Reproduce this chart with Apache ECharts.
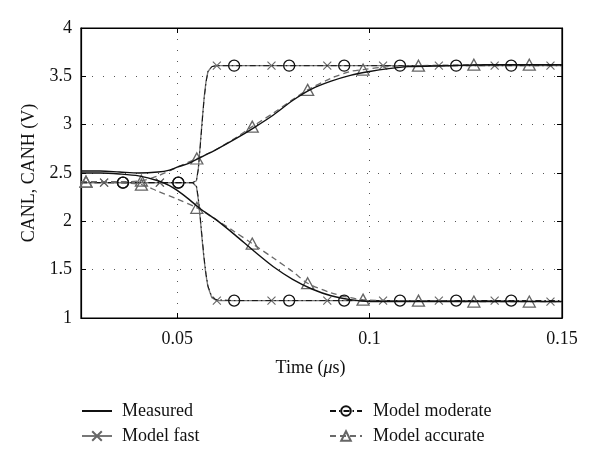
<!DOCTYPE html>
<html><head><meta charset="utf-8">
<script src="https://cdn.jsdelivr.net/npm/echarts@6/dist/echarts.min.js"></script>
<style>html,body{margin:0;padding:0;background:#fff}#c{width:600px;height:460px}</style>
</head><body><div id="c"></div>
<script>
// Axis ticks
const xTicks = [0.05, 0.1, 0.15];
const yTicks = [1, 1.5, 2, 2.5, 3, 3.5, 4];

// Measured (solid)
const measT = [0.025, 0.030, 0.035, 0.040, 0.045, 0.048, 0.050, 0.053, 0.056, 0.060, 0.065, 0.070, 0.075, 0.080, 0.085, 0.090, 0.095, 0.100, 0.105, 0.110, 0.120, 0.130, 0.140, 0.150];
const measH = [2.52, 2.52, 2.51, 2.50, 2.51, 2.53, 2.56, 2.60, 2.66, 2.74, 2.85, 2.97, 3.10, 3.25, 3.37, 3.45, 3.51, 3.55, 3.58, 3.60, 3.61, 3.62, 3.62, 3.62];
const measL = [2.50, 2.50, 2.49, 2.47, 2.42, 2.37, 2.32, 2.23, 2.13, 2.02, 1.86, 1.69, 1.53, 1.40, 1.30, 1.23, 1.19, 1.17, 1.17, 1.17, 1.17, 1.17, 1.17, 1.17];

// Model fast (x markers)
const fastT = [0.025, 0.031, 0.0455, 0.054, 0.055, 0.0555, 0.056, 0.0565, 0.057, 0.0575, 0.058, 0.059, 0.0603, 0.0745, 0.089, 0.1035, 0.118, 0.1325, 0.147, 0.15];
const fastH = [2.40, 2.40, 2.40, 2.40, 2.42, 2.55, 2.80, 3.05, 3.28, 3.45, 3.55, 3.60, 3.61, 3.61, 3.61, 3.61, 3.61, 3.61, 3.61, 3.61];
const fastL = [2.40, 2.40, 2.40, 2.40, 2.36, 2.22, 2.02, 1.80, 1.60, 1.44, 1.32, 1.21, 1.18, 1.18, 1.18, 1.18, 1.18, 1.18, 1.17, 1.17];
const fastMarks = [0.031, 0.0455, 0.0603, 0.0745, 0.089, 0.1035, 0.118, 0.1325, 0.147];

// Model moderate (circle markers)
const modT = [0.025, 0.0359, 0.0503, 0.054, 0.055, 0.0555, 0.056, 0.0565, 0.057, 0.0575, 0.058, 0.059, 0.060, 0.0648, 0.0791, 0.0934, 0.1079, 0.1225, 0.1368, 0.15];
const modH = [2.40, 2.40, 2.40, 2.40, 2.42, 2.54, 2.78, 3.03, 3.27, 3.44, 3.55, 3.60, 3.61, 3.61, 3.61, 3.61, 3.61, 3.61, 3.61, 3.61];
const modL = [2.40, 2.40, 2.40, 2.40, 2.37, 2.24, 2.04, 1.82, 1.62, 1.45, 1.33, 1.22, 1.19, 1.18, 1.18, 1.18, 1.18, 1.18, 1.18, 1.18];
const modMarks = [0.0359, 0.0503, 0.0648, 0.0791, 0.0934, 0.1079, 0.1225, 0.1368];

// Model accurate (triangle markers)
const accT = [0.025, 0.0263, 0.035, 0.0407, 0.045, 0.050, 0.0551, 0.060, 0.065, 0.0695, 0.075, 0.080, 0.0839, 0.090, 0.095, 0.0983, 0.105, 0.1127, 0.1271, 0.1415, 0.15];
const accH = [2.41, 2.41, 2.41, 2.42, 2.47, 2.56, 2.65, 2.74, 2.86, 2.98, 3.12, 3.26, 3.36, 3.48, 3.55, 3.57, 3.60, 3.61, 3.62, 3.62, 3.62];
const accL = [2.41, 2.41, 2.40, 2.38, 2.31, 2.23, 2.14, 2.02, 1.89, 1.77, 1.62, 1.48, 1.36, 1.26, 1.21, 1.19, 1.18, 1.18, 1.17, 1.17, 1.17];
const accMarks = [0.0263, 0.0407, 0.0551, 0.0695, 0.0839, 0.0983, 0.1127, 0.1271, 0.1415];

function build(ts, vs, marks) {
  return ts.map((t, i) => marks.some(m => Math.abs(m - t) < 1e-9) ? [t, vs[i]] : { value: [t, vs[i]], symbol: 'none' });
}

const FONT = 'Liberation Serif';
const crossPath = 'path://M0,0L10,10M10,0L0,10';

function measured(vs) {
  return { name: 'Measured', type: 'line', data: measT.map((t, i) => [t, vs[i]]), symbol: 'none', smooth: 0.3, z: 5,
    lineStyle: { color: '#111', width: 1.4 }, itemStyle: { color: '#111' } };
}
function fast(vs) {
  return { name: 'Model fast', type: 'line', data: build(fastT, vs, fastMarks), symbol: crossPath, symbolSize: 8,
    showAllSymbol: true, z: 3,
    lineStyle: { color: '#777', width: 1.3 }, itemStyle: { color: 'none', borderColor: '#666', borderWidth: 1.1 } };
}
function moderate(vs) {
  return { name: 'Model moderate', type: 'line', data: build(modT, vs, modMarks), symbol: 'circle', symbolSize: 11,
    showAllSymbol: true, z: 4,
    lineStyle: { color: '#111', width: 1, type: [6, 3, 1.5, 3] }, itemStyle: { color: 'rgba(255,255,255,0)', borderColor: '#111', borderWidth: 1.3 } };
}
function accurate(vs) {
  return { name: 'Model accurate', type: 'line', data: build(accT, vs, accMarks), symbol: 'triangle', symbolSize: [12, 11],
    showAllSymbol: true, smooth: 0.3, z: 4,
    lineStyle: { color: '#6a6a6a', width: 1.3, type: [6, 4] }, itemStyle: { color: 'rgba(255,255,255,0)', borderColor: '#666', borderWidth: 1.3 } };
}

const dotted = { color: '#555', width: 1, type: [1, 10] };

const option = {
  animation: false,
  backgroundColor: '#fff',
  textStyle: { fontFamily: FONT },
  grid: { left: 81, right: 38, top: 28, bottom: 142, show: true, borderColor: '#000', borderWidth: 1.2, backgroundColor: 'transparent' },
  legend: [
    { data: [{ name: 'Measured', itemStyle: { opacity: 0 } }, 'Model fast'], orient: 'vertical', left: 76, top: 397, itemWidth: 30, itemHeight: 12, itemGap: 7,
      textStyle: { fontFamily: FONT, fontSize: 18, color: '#111', padding: [0, 0, 0, 5] } },
    { data: ['Model moderate', 'Model accurate'], orient: 'vertical', left: 324, top: 397, itemWidth: 32, itemHeight: 12, itemGap: 7,
      textStyle: { fontFamily: FONT, fontSize: 18, color: '#111', padding: [0, 0, 0, 6] } }
  ],
  xAxis: [
    { type: 'value', min: 0.025, max: 0.15, position: 'bottom',
      name: 'Time ({i|μ}s)', nameLocation: 'middle', nameGap: 41,
      nameTextStyle: { fontFamily: FONT, fontSize: 18, color: '#111', padding: [0, 22, 0, 0], rich: { i: { fontFamily: FONT, fontStyle: 'italic', fontSize: 18 } } },
      axisLine: { show: true, onZero: false, lineStyle: { color: '#000', width: 1.2 } },
      axisTick: { show: true, inside: true, length: 5, customValues: xTicks, lineStyle: { color: '#000' } },
      axisLabel: { customValues: xTicks, margin: 12, fontFamily: FONT, fontSize: 18, color: '#111', formatter: v => String(+v.toFixed(3)) },
      splitLine: { show: true, lineStyle: dotted } },
    { type: 'value', min: 0.025, max: 0.15, position: 'top',
      axisLine: { show: true, onZero: false, lineStyle: { color: '#000', width: 1.2 } },
      axisTick: { show: true, inside: true, length: 5, customValues: xTicks, lineStyle: { color: '#000' } },
      axisLabel: { show: false }, splitLine: { show: false } }
  ],
  yAxis: [
    { type: 'value', min: 1, max: 4, interval: 0.5, position: 'left',
      name: 'CANL, CANH (V)', nameLocation: 'middle', nameGap: 37, nameRotate: 90,
      nameTextStyle: { fontFamily: FONT, fontSize: 18, color: '#111' },
      axisLine: { show: true, onZero: false, lineStyle: { color: '#000', width: 1.2 } },
      axisTick: { show: true, inside: true, length: 5, lineStyle: { color: '#000' } },
      axisLabel: { margin: 9, fontFamily: FONT, fontSize: 18, color: '#111', formatter: v => String(v) },
      splitLine: { show: true, lineStyle: dotted } },
    { type: 'value', min: 1, max: 4, interval: 0.5, position: 'right',
      axisLine: { show: true, onZero: false, lineStyle: { color: '#000', width: 1.2 } },
      axisTick: { show: true, inside: true, length: 5, lineStyle: { color: '#000' } },
      axisLabel: { show: false }, splitLine: { show: false } }
  ],
  series: [
    measured(measH), measured(measL),
    fast(fastH), fast(fastL),
    moderate(modH), moderate(modL),
    accurate(accH), accurate(accL)
  ]
};

const chart = echarts.init(document.getElementById('c'), null, { renderer: 'canvas' });
chart.setOption(option);
</script>
</body></html>
